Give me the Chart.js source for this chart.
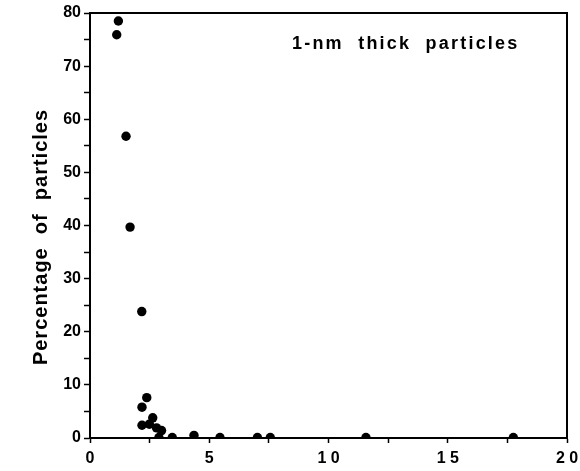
<!DOCTYPE html>
<html>
<head>
<meta charset="utf-8">
<script src="https://cdn.jsdelivr.net/npm/chart.js@4/dist/chart.umd.min.js"></script>
<style>
html,body{margin:0;padding:0;background:#fff;}
#wrap{width:580px;height:471px;position:relative;}
</style>
</head>
<body>
<div id="wrap"><canvas id="c" width="580" height="471"></canvas></div>
<script>
const thicknessNm = [1.12, 1.19, 1.51, 1.68, 2.17, 2.18, 2.38, 2.18, 2.63, 2.49, 2.79, 3.00, 2.89, 3.45, 4.36, 5.45, 7.02, 7.56, 11.57, 17.75];
const percentParticles = [75.9, 78.5, 56.8, 39.7, 23.8, 5.8, 7.6, 2.4, 3.8, 2.6, 1.9, 1.4, 0.1, 0.1, 0.5, 0.1, 0.1, 0.1, 0.1, 0.1];
const xTickLabels = ['0', '5', '1 0', '1 5', '2 0'];
const yTickLabels = ['0', '10', '20', '30', '40', '50', '60', '70', '80'];
const yAxisTitle = 'Percentage  of  particles';
const annotationText = '1-nm  thick  particles';

const FONT = '"Liberation Sans", Arial, Helvetica, sans-serif';

const points = thicknessNm.map((x, i) => ({x: x, y: percentParticles[i]}));

const frame = {
  id: 'frame',
  afterDraw(chart) {
    const {ctx, chartArea: a} = chart;
    ctx.save();
    ctx.strokeStyle = '#000';
    ctx.lineWidth = 2;
    ctx.beginPath();
    ctx.moveTo(a.left, a.top);
    ctx.lineTo(a.right, a.top);
    ctx.lineTo(a.right, a.bottom);
    ctx.stroke();
    ctx.fillStyle = '#000';
    ctx.font = 'bold 18px ' + FONT;
    ctx.letterSpacing = '2.2px';
    ctx.textAlign = 'left';
    ctx.textBaseline = 'middle';
    ctx.fillText(annotationText, 292, 44);
    ctx.translate(41, 237);
    ctx.rotate(-Math.PI / 2);
    ctx.textAlign = 'center';
    ctx.font = 'bold 20px ' + FONT;
    ctx.letterSpacing = '1px';
    ctx.fillText(yAxisTitle, 0, 0);
    ctx.restore();
  }
};

new Chart(document.getElementById('c'), {
  type: 'scatter',
  data: {
    datasets: [{
      data: points,
      backgroundColor: '#000',
      borderColor: '#000',
      pointRadius: 4.7,
      pointHoverRadius: 4.7,
      borderWidth: 0
    }]
  },
  options: {
    responsive: false,
    animation: false,
    events: [],
    layout: {padding: {top: 13, right: 13, left: 0, bottom: 0}},
    plugins: {legend: {display: false}, tooltip: {enabled: false}},
    scales: {
      x: {
        type: 'linear',
        min: 0, max: 20,
        afterFit(s) { s.height = 33; s.paddingRight = 0; s.paddingLeft = 0; },
        ticks: {
          stepSize: 2.5,
          autoSkip: false,
          maxRotation: 0,
          padding: 6,
          color: '#000',
          font: {family: FONT, size: 16, weight: 'bold'},
          callback: (v) => (v % 5 === 0 ? xTickLabels[v / 5] : '')
        },
        grid: {drawOnChartArea: false, tickLength: 5, color: '#000', tickWidth: 1.5},
        border: {color: '#000', width: 2}
      },
      y: {
        type: 'linear',
        min: 0, max: 80,
        afterFit(s) { s.width = 90; s.paddingTop = 0; s.paddingBottom = 0; },
        ticks: {
          stepSize: 5,
          autoSkip: false,
          padding: 3,
          color: '#000',
          font: {family: FONT, size: 16, weight: 'bold'},
          callback: (v) => (v % 10 === 0 ? yTickLabels[v / 10] : '')
        },
        grid: {drawOnChartArea: false, tickLength: 6, color: '#000', tickWidth: 1.5},
        border: {color: '#000', width: 2}
      }
    }
  },
  plugins: [frame]
});
</script>
</body>
</html>
